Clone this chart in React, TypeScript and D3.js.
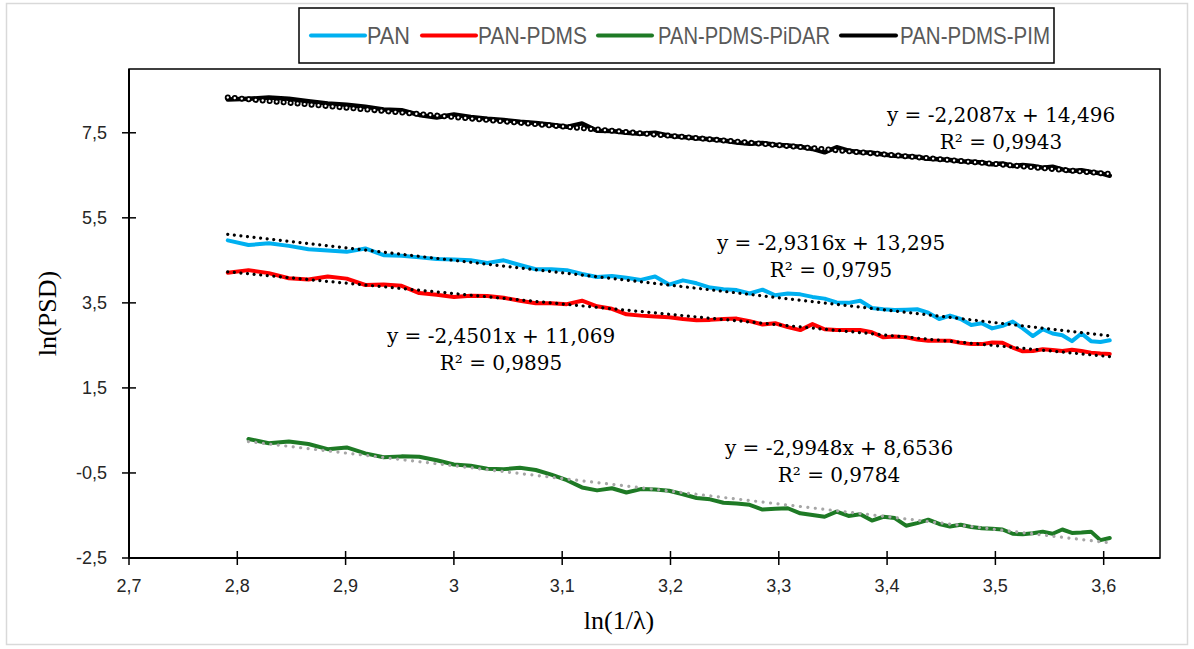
import React from 'react';
import * as d3 from 'd3';

// ln(1/λ) sample positions shared by all series
const xValues = [
  2.7912, 2.8103, 2.8291, 2.8476, 2.8657, 2.8835, 2.901, 2.9182, 2.9351, 2.9517,
  2.968, 2.9841, 3.0, 3.0155, 3.0309, 3.046, 3.0609, 3.0756, 3.09, 3.1043,
  3.1183, 3.1322, 3.1459, 3.1593, 3.1726, 3.1858, 3.1987, 3.2115, 3.2241, 3.2366,
  3.2489, 3.2611, 3.2731, 3.285, 3.2967, 3.3083, 3.3198, 3.3311, 3.3423, 3.3534,
  3.3644, 3.3752, 3.386, 3.3966, 3.4071, 3.4175, 3.4278, 3.438, 3.4481, 3.4581,
  3.4679, 3.4777, 3.4874, 3.497, 3.5066, 3.516, 3.5253, 3.5346, 3.5437, 3.5528,
  3.5618, 3.5707, 3.5795, 3.5883, 3.597, 3.6056,
];

const panValues = [
  4.97, 4.86, 4.9, 4.84, 4.76, 4.73, 4.7, 4.78, 4.62, 4.61,
  4.57, 4.53, 4.52, 4.5, 4.44, 4.5, 4.39, 4.29, 4.29, 4.27,
  4.18, 4.11, 4.13, 4.09, 4.04, 4.12, 3.93, 4.03, 3.96, 3.86,
  3.82, 3.8, 3.72, 3.81, 3.68, 3.72, 3.7, 3.64, 3.6, 3.51,
  3.5, 3.55, 3.38, 3.35, 3.33, 3.34, 3.35, 3.27, 3.12, 3.2,
  3.12, 2.98, 3.02, 2.9, 2.96, 3.06, 2.9, 2.72, 2.88, 2.78,
  2.74, 2.6, 2.78, 2.6, 2.58, 2.62,
];

const panPdmsValues = [
  4.21, 4.27, 4.2, 4.08, 4.05, 4.12, 4.07, 3.92, 3.93, 3.9,
  3.73, 3.69, 3.64, 3.67, 3.66, 3.62, 3.55, 3.49, 3.49, 3.47,
  3.55, 3.42, 3.36, 3.23, 3.2, 3.18, 3.16, 3.12, 3.09, 3.1,
  3.12, 3.13, 3.07, 2.99, 3.02, 2.93, 2.86, 3.0, 2.88, 2.86,
  2.86, 2.86, 2.81, 2.69, 2.71, 2.69, 2.64, 2.61, 2.61, 2.61,
  2.56, 2.53, 2.53, 2.57, 2.56, 2.45, 2.36, 2.37, 2.41, 2.39,
  2.37, 2.4, 2.37, 2.33, 2.31, 2.3,
];

// PAN-PDMS-PiDAR starts at the second x position
const pidarValues = [
  null, 0.3, 0.2, 0.24, 0.18, 0.06, 0.1, -0.04, -0.13, -0.11,
  -0.12, -0.2, -0.3, -0.33, -0.4, -0.41, -0.38, -0.43, -0.54, -0.67,
  -0.84, -0.91, -0.86, -0.96, -0.88, -0.89, -0.92, -1.0, -1.09, -1.12,
  -1.2, -1.22, -1.25, -1.36, -1.34, -1.33, -1.45, -1.49, -1.53, -1.41,
  -1.51, -1.47, -1.62, -1.53, -1.56, -1.74, -1.68, -1.6, -1.7, -1.76,
  -1.72, -1.77, -1.8, -1.81, -1.83, -1.93, -1.94, -1.92, -1.88, -1.93,
  -1.83, -1.91, -1.9, -1.88, -2.08, -2.03,
];

const pimValues = [
  8.28, 8.3, 8.33, 8.3, 8.24, 8.19, 8.16, 8.11, 8.05, 8.03,
  7.92, 7.86, 7.93, 7.87, 7.83, 7.8, 7.76, 7.73, 7.69, 7.64,
  7.72, 7.55, 7.54, 7.5, 7.48, 7.5, 7.43, 7.4, 7.37, 7.35,
  7.32, 7.27, 7.24, 7.26, 7.22, 7.2, 7.17, 7.12, 7.04, 7.16,
  7.08, 7.04, 7.03, 6.99, 6.96, 6.95, 6.93, 6.89, 6.88, 6.86,
  6.83, 6.82, 6.8, 6.76, 6.78, 6.72, 6.74, 6.72, 6.68, 6.7,
  6.64, 6.6, 6.62, 6.58, 6.55, 6.49,
];

const seriesNames = ['PAN', 'PAN-PDMS', 'PAN-PDMS-PiDAR', 'PAN-PDMS-PIM'];
const seriesColors = ['#00B0F0', '#FF0000', '#1E7A25', '#000000'];
const trendSlopes = [-2.9316, -2.4501, -2.9948, -2.2087];
const trendIntercepts = [13.295, 11.069, 8.6536, 14.496];
const equationTexts = [
  'y = -2,9316x + 13,295',
  'y = -2,4501x + 11,069',
  'y = -2,9948x + 8,6536',
  'y = -2,2087x + 14,496',
];
const r2Texts = ['R² = 0,9795', 'R² = 0,9895', 'R² = 0,9784', 'R² = 0,9943'];

const xTicks = [2.7, 2.8, 2.9, 3.0, 3.1, 3.2, 3.3, 3.4, 3.5, 3.6];
const yTicks = [-2.5, -0.5, 1.5, 3.5, 5.5, 7.5];

const W = 1194;
const H = 649;
const PL = 129, PR = 1160, PT = 69, PB = 558;

const x = d3.scaleLinear().domain([2.7, 3.652]).range([PL, PR]);
const y = d3.scaleLinear().domain([-2.5, 9.0]).range([PB, PT]);

const fmt = (v: number) => String(+v.toFixed(1)).replace('.', ',');

const allValues = [panValues, panPdmsValues, pidarValues, pimValues];

// equation label positions (center x, baseline y of first line)
const eqPos = [
  { cx: 831, by: 250 },
  { cx: 501, by: 343 },
  { cx: 839, by: 455 },
  { cx: 1001, by: 122 },
];

const legendItems = [
  { x1: 311, x2: 365, tx: 367, tw: 43 },
  { x1: 422, x2: 476, tx: 478, tw: 109 },
  { x1: 598, x2: 652, tx: 658, tw: 172 },
  { x1: 841, x2: 896, tx: 900, tw: 150 },
];

export default function App() {
  const line = d3
    .line<[number, number | null]>()
    .defined((d) => d[1] !== null)
    .x((d) => x(d[0]))
    .y((d) => y(d[1] as number));

  const series = allValues.map((vals) =>
    xValues.map((xv, i) => [xv, vals[i]] as [number, number | null])
  );

  const trends = series.map((pts, s) => {
    const valid = pts.filter((p) => p[1] !== null);
    const x0 = valid[0][0];
    const x1 = valid[valid.length - 1][0];
    return [x0, x1].map((xv) => [xv, trendSlopes[s] * xv + trendIntercepts[s]] as [number, number]);
  });

  const trendLine = d3
    .line<[number, number]>()
    .x((d) => x(d[0]))
    .y((d) => y(d[1]));

  const order = [0, 1, 2, 3];

  return (
    <svg
      width={W}
      height={H}
      style={{ position: 'absolute', left: 0, top: 0, background: '#fff' }}
    >
      <rect x={0} y={0} width={W} height={H} fill="#fff" />
      <rect x={6.5} y={3.5} width={1181} height={641} fill="none" stroke="#D9D9D9" strokeWidth={1.5} />

      {/* plot border */}
      <rect x={PL} y={PT} width={PR - PL} height={PB - PT} fill="none" stroke="#000" strokeWidth={1.5} />

      {/* data lines */}
      {order.map((s) => (
        <path
          key={'l' + s}
          d={line(series[s]) || ''}
          fill="none"
          stroke={seriesColors[s]}
          strokeWidth={s === 3 ? 4.5 : 4}
          strokeLinejoin="round"
          strokeLinecap="round"
        />
      ))}

      {/* trendlines */}
      <path d={trendLine(trends[0]) || ''} fill="none" stroke="#000" strokeWidth={3.2} strokeDasharray="0.01 6.6" strokeLinecap="round" />
      <path d={trendLine(trends[1]) || ''} fill="none" stroke="#000" strokeWidth={3.2} strokeDasharray="0.01 6.6" strokeLinecap="round" />
      <path d={trendLine(trends[2]) || ''} fill="none" stroke="#A6A6A6" strokeWidth={3.2} strokeDasharray="0.01 7.5" strokeLinecap="round" />
      <path d={trendLine(trends[3]) || ''} fill="none" stroke="#000" strokeWidth={6} strokeDasharray="0.01 7" strokeLinecap="round" />
      <path d={trendLine(trends[3]) || ''} fill="none" stroke="#fff" strokeWidth={2.4} strokeDasharray="0.01 7" strokeLinecap="round" />

      {/* equations */}
      {order.map((s) => (
        <g key={'e' + s} fontFamily="'DejaVu Serif', serif" fontSize={20} fill="#000" textAnchor="middle">
          <text x={eqPos[s].cx} y={eqPos[s].by}>{equationTexts[s]}</text>
          <text x={eqPos[s].cx} y={eqPos[s].by + 27}>{r2Texts[s]}</text>
        </g>
      ))}

      {/* axes */}
      <line x1={PL} x2={PL} y1={PT} y2={PB} stroke="#000" strokeWidth={2} />
      <line x1={PL} x2={PR} y1={PB} y2={PB} stroke="#000" strokeWidth={2} />
      {yTicks.map((t) => (
        <g key={'yt' + t}>
          <line x1={PL - 7} x2={PL + 7} y1={y(t)} y2={y(t)} stroke="#000" strokeWidth={1.5} />
          <text
            x={107}
            y={y(t)}
            dy="0.35em"
            textAnchor="end"
            fontFamily="'Liberation Sans', Arial, sans-serif"
            fontSize={18}
            fill="#262626"
          >
            {fmt(t)}
          </text>
        </g>
      ))}
      {xTicks.map((t) => (
        <g key={'xt' + t}>
          <line x1={x(t)} x2={x(t)} y1={PB - 7} y2={PB + 7} stroke="#000" strokeWidth={1.5} />
          <text
            x={x(t)}
            y={592}
            textAnchor="middle"
            fontFamily="'Liberation Sans', Arial, sans-serif"
            fontSize={18}
            fill="#262626"
          >
            {fmt(t)}
          </text>
        </g>
      ))}

      {/* axis titles */}
      <text
        x={619}
        y={629}
        textAnchor="middle"
        fontFamily="'Liberation Serif', 'Times New Roman', serif"
        fontSize={26}
        fill="#000"
      >
        ln(1/λ)
      </text>
      <text
        transform={`translate(56, ${(PT + PB) / 2}) rotate(-90)`}
        textAnchor="middle"
        fontFamily="'Liberation Serif', 'Times New Roman', serif"
        fontSize={26}
        fill="#000"
      >
        ln(PSD)
      </text>

      {/* legend */}
      <rect x={299} y={8} width={755} height={55} fill="#fff" stroke="#000" strokeWidth={1.5} />
      {legendItems.map((it, s) => (
        <g key={'lg' + s}>
          <line x1={it.x1} x2={it.x2} y1={35.5} y2={35.5} stroke={seriesColors[s]} strokeWidth={4} strokeLinecap="round" />
          <text
            x={it.tx}
            y={35.5}
            dy="0.35em"
            fontFamily="'Liberation Sans Narrow', 'Arial Narrow', sans-serif"
            fontSize={24}
            fill="#595959"
            textLength={it.tw}
            lengthAdjust="spacingAndGlyphs"
          >
            {seriesNames[s]}
          </text>
        </g>
      ))}
    </svg>
  );
}
